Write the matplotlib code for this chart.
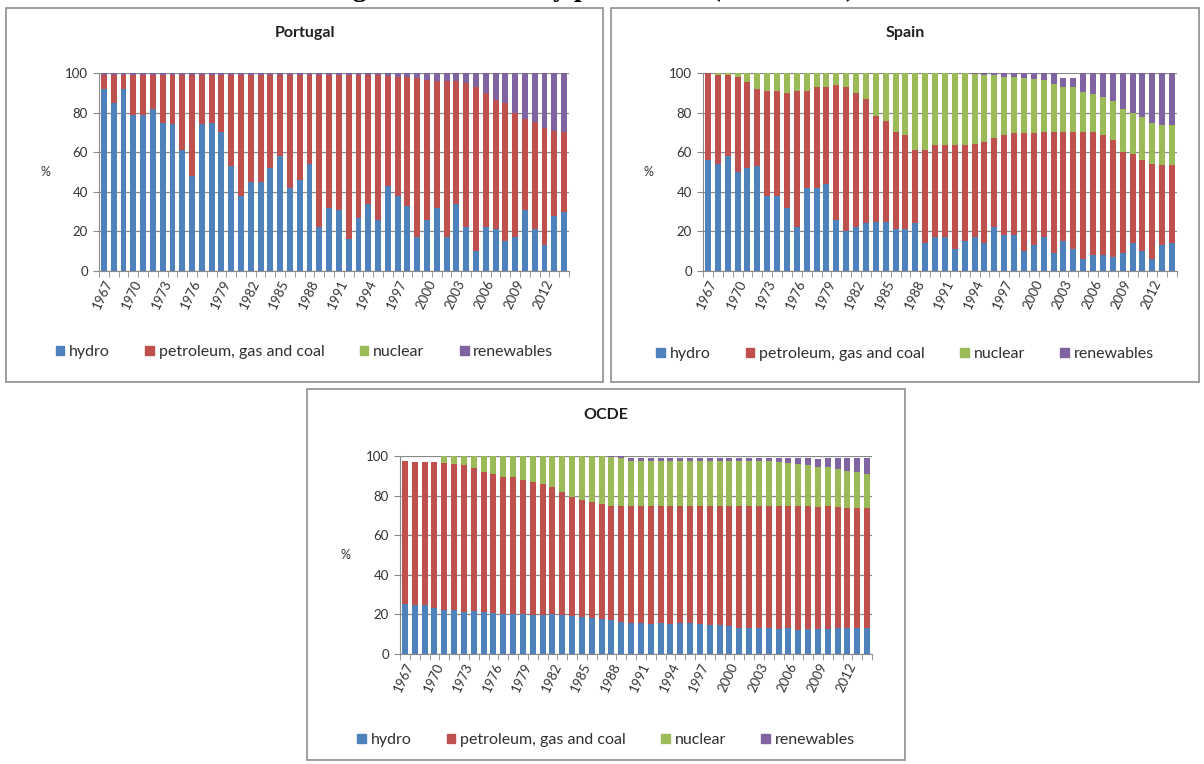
import numpy as np
import matplotlib
matplotlib.use("Agg")
import matplotlib.pyplot as plt
from matplotlib.patches import Rectangle, Patch

plt.rcParams["font.family"] = ["Lato", "DejaVu Sans"]

W, H = 1204, 764

years = list(range(1967, 2015))
tick_years = list(range(1967, 2013, 3))
sources = ["hydro", "petroleum, gas and coal", "nuclear", "renewables"]
colors = ["#4F81BD", "#C0504D", "#9BBB59", "#8064A2"]

# shares of electricity production (%), 1967-2014
pt_hydro = [92, 85, 92, 79, 79, 82, 75, 74, 61, 48, 74, 75, 70, 53, 38, 45,
            45, 52, 58, 42, 46, 54, 22, 32, 31, 16, 27, 34, 26, 43, 38, 33,
            17, 26, 32, 17, 34, 22, 10, 22, 21, 15, 17, 31, 21, 13, 28, 30]
pt_fossil = [7, 14, 7, 20, 20, 17, 24, 25, 38, 51, 25, 24, 29, 46, 61, 54,
             54, 47, 41, 57, 53, 45, 77, 67, 68, 83, 72, 65, 73, 55.5, 60, 65,
             80.5, 70.5, 64, 79, 62, 73, 83, 68, 65.5, 70, 63, 46, 54.5, 59, 42.5, 40]
pt_nuclear = [0] * 48
pt_renew = [1, 1, 1, 1, 1, 1, 1, 1, 1, 1, 1, 1, 1, 1, 1, 1,
            1, 1, 1, 1, 1, 1, 1, 1, 1, 1, 1, 1, 1, 1.5, 2, 2,
            2.5, 3.5, 4, 4, 4, 5, 7, 10, 13.5, 15, 20, 23, 24.5, 28, 29.5, 30]

es_hydro = [56, 54, 58, 50, 52, 53, 38, 38, 32, 22, 42, 42, 44, 26, 20, 22,
            24, 25, 25, 21, 21, 24, 14, 17, 17, 11, 15, 17, 14, 22, 18, 18,
            10, 13, 17, 9, 15, 11, 6, 8, 8, 7, 9, 14, 10, 6, 13, 14]
es_fossil = [44, 45, 41, 48, 43.5, 39, 53, 53, 58, 69, 49, 51, 49, 68, 73, 68,
             63, 53.5, 51, 49, 47.5, 37, 47, 46.5, 46.5, 52.5, 48.5, 47, 51, 45, 50.5, 51.5,
             59.5, 56.5, 53, 61, 55, 59, 64, 62, 60.5, 59, 51, 45, 46, 48, 40.5, 39.5]
es_nuclear = [0, 1, 1, 2, 4.5, 8, 9, 9, 10, 9, 9, 7, 7, 6, 7, 10,
              13, 21.5, 24, 30, 31.5, 39, 39, 36.5, 36.5, 36.5, 36.5, 35.5, 34, 32, 29.5, 28.5,
              28, 27.5, 26.5, 24.5, 23, 23, 20.5, 19.5, 19.5, 20, 22, 21, 22, 20.5, 20, 20]
es_renew = [0, 0, 0, 0, 0, 0, 0, 0, 0, 0, 0, 0, 0, 0, 0, 0,
            0, 0, 0, 0, 0, 0, 0, 0, 0, 0, 0, 0.5, 1, 1, 2, 2,
            2.5, 3, 3.5, 5.5, 4.5, 4.5, 9.5, 10.5, 12, 14, 18, 20, 22, 25.5, 26.5, 26.5]

oc_hydro = [25.5, 25, 24.5, 23, 22, 22, 21, 21.5, 21, 20.5, 20, 20, 20, 19.5, 19.5, 20,
            19.5, 19, 18.5, 18, 17.5, 17, 16, 15.5, 15.5, 15, 15.5, 15, 15.5, 15.5, 15, 14.5,
            14.5, 14, 13, 13, 13, 13, 12.5, 13, 12, 12.5, 12.5, 12.5, 13, 13, 13, 13]
oc_fossil = [72, 72, 72.5, 74, 74.5, 74, 74.5, 72.5, 71, 70.5, 69.5, 69.5, 68, 67.5, 66.5, 64.5,
             62.5, 60.5, 59.5, 59, 58.5, 58, 59, 59, 59, 59.5, 59, 59.5, 59, 59, 59.5, 60,
             60, 60.5, 61.5, 61.5, 61.5, 61.5, 62, 61.5, 62.5, 62, 61.5, 62, 61, 60.5, 60.5, 60.5]
oc_nuclear = [0, 0, 0, 0, 3.5, 4, 4.5, 6, 8, 9, 10.5, 10.5, 12, 13, 14, 15.5,
              18, 20.5, 22, 23, 24, 24.5, 24, 23, 23, 23, 23, 23, 23, 23, 23, 23,
              23, 23, 23, 23, 23, 23, 22.5, 22, 21.5, 21, 20.5, 20, 19.5, 19, 18.5, 17.5]
oc_renew = [0, 0, 0, 0, 0, 0, 0, 0, 0, 0, 0, 0, 0, 0, 0, 0,
            0, 0, 0, 0, 0, 0.5, 1, 1.5, 1.5, 1.5, 1.5, 1.5, 1.5, 1.5, 1.5, 1.5,
            1.5, 1.5, 1.5, 1.5, 1.5, 1.5, 2, 2.5, 3, 3.5, 4, 4.5, 5.5, 6.5, 7, 8]

fig = plt.figure(figsize=(W / 100, H / 100), dpi=100)


def fx(px):
    return px / W


def fy(py):
    return 1 - py / H


def panel(box, area, title, title_y, pct_x, legend_y, series):
    bx0, by0, bx1, by1 = box
    fig.patches.append(Rectangle((fx(bx0), fy(by1)), fx(bx1 - bx0), (by1 - by0) / H,
                                 transform=fig.transFigure, fill=False,
                                 edgecolor="#8e8e8e", lw=1.2))
    ax0, ay0, ax1, ay1 = area
    ax = fig.add_axes([fx(ax0), fy(ay1), fx(ax1 - ax0), (ay1 - ay0) / H])
    x = np.arange(len(years))
    bottom = np.zeros(len(years))
    for vals, c in zip(series, colors):
        v = np.array(vals, dtype=float)
        ax.bar(x, v, bottom=bottom, width=0.6, color=c, linewidth=0)
        bottom += v
    ax.set_xlim(-0.5, len(years) - 0.5)
    ax.set_ylim(0, 100)
    ax.set_yticks(range(0, 101, 20))
    ax.yaxis.grid(True, color="#8a8a8a", lw=0.9)
    ax.set_axisbelow(True)
    for s in ("top", "right"):
        ax.spines[s].set_visible(False)
    for s in ("left", "bottom"):
        ax.spines[s].set_color("#8a8a8a")
    ax.set_xticks([years.index(y) for y in tick_years])
    ax.set_xticklabels([str(y) for y in tick_years], rotation=65, ha="right",
                       rotation_mode="anchor", fontsize=9.5, color="#333333")
    ax.set_xticks(np.arange(-0.5, len(years), 1), minor=True)
    ax.tick_params(axis="x", which="major", length=0, pad=5)
    ax.tick_params(axis="x", which="minor", length=4, color="#8a8a8a")
    ax.tick_params(axis="y", length=4, color="#8a8a8a", labelsize=9.5,
                   labelcolor="#333333", pad=4)
    cx = (bx0 + bx1) / 2
    fig.text(fx(cx), fy(title_y), title, ha="center", va="center",
             fontsize=11.5, fontweight="bold", color="#202020")
    fig.text(fx(pct_x), fy((ay0 + ay1) / 2), "%", ha="center", va="center",
             fontsize=9, color="#333333")
    handles = [Patch(color=c) for c in colors]
    fig.legend(handles, sources, loc="center", bbox_to_anchor=(fx(cx), fy(legend_y)),
               ncol=4, frameon=False, fontsize=11.5, handlelength=0.55, handleheight=0.55,
               handletextpad=0.3, columnspacing=2.2, labelcolor="#303030")


panel((6, 8, 603, 382), (99, 73, 569, 271), "Portugal", 33, 45, 352,
      [pt_hydro, pt_fossil, pt_nuclear, pt_renew])
panel((611, 8, 1199, 382), (703, 73, 1177, 271), "Spain", 33, 648, 354,
      [es_hydro, es_fossil, es_nuclear, es_renew])
panel((307, 389, 905, 760), (400, 456, 872, 654), "OCDE", 415, 345, 740,
      [oc_hydro, oc_fossil, oc_nuclear, oc_renew])

# caption of the figure, its lower edge showing at the top
fig.text(fx(592), fy(-4), "Figure 3: Electricity production (1967\u20132014)",
         ha="center", va="baseline", fontsize=20, fontweight="bold",
         family="Liberation Serif", color="black")

fig.savefig("out.png", dpi=100, facecolor="white")
